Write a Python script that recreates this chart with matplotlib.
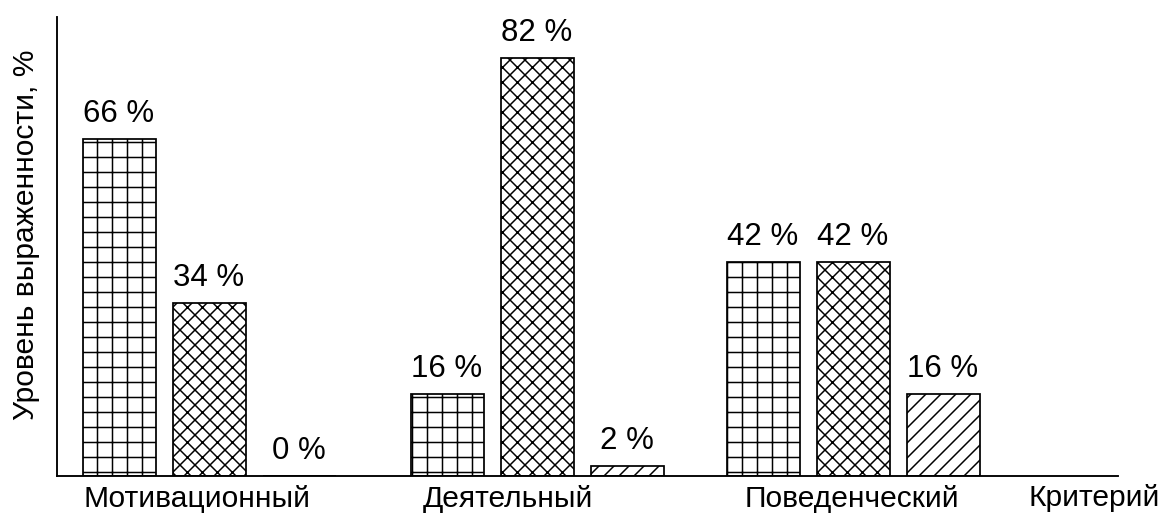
import matplotlib.pyplot as plt
import numpy as np

plt.rcParams['font.family'] = ['Liberation Sans', 'DejaVu Sans']
plt.rcParams['hatch.linewidth'] = 1.2
plt.rcParams['hatch.color'] = '#333333'

# данные диаграммы
criteria = ['Мотивационный', 'Деятельный', 'Поведенческий']
level_1 = [66, 16, 42]
level_2 = [34, 82, 42]
level_3 = [0, 2, 16]
series = [level_1, level_2, level_3]
hatches = ['+', 'xx', '//']

fig = plt.figure(figsize=(1166 / 90, 515 / 90), dpi=90)
ax = fig.add_axes([57 / 1166, 1 - 476 / 515, (1118 - 57) / 1166, (476 - 17) / 515])

# координаты в пикселях от левой оси
group_x = np.array([152, 480, 796])
shift = [-90, 0, 90]
width = 73

for vals, dx, h in zip(series, shift, hatches):
    bars = ax.bar(group_x + dx, vals, width, color='white', edgecolor='black',
                  linewidth=1.4, hatch=h, zorder=2)
    for b, v in zip(bars, vals):
        ax.annotate(f'{v} %', (b.get_x() + b.get_width() / 2, b.get_height()),
                    xytext=(0, 8), textcoords='offset points',
                    ha='center', va='bottom', fontsize=25)

ax.set_xlim(0, 1061)
ax.set_ylim(0, 90)
ax.set_xticks([140, 451, 795])
ax.set_xticklabels(criteria, fontsize=24)
ax.tick_params(axis='x', length=0, pad=7)
ax.set_yticks([])
for s in ['top', 'right']:
    ax.spines[s].set_visible(False)
for s in ['left', 'bottom']:
    ax.spines[s].set_linewidth(1.5)

ax.set_ylabel('Уровень выраженности, %', fontsize=24)
ax.yaxis.set_label_coords(-0.016, 0.525)
fig.text(1160 / 1166, 1 - 498 / 515, 'Критерий', fontsize=24, ha='right', va='center')

fig.savefig('out.png', dpi=90)
